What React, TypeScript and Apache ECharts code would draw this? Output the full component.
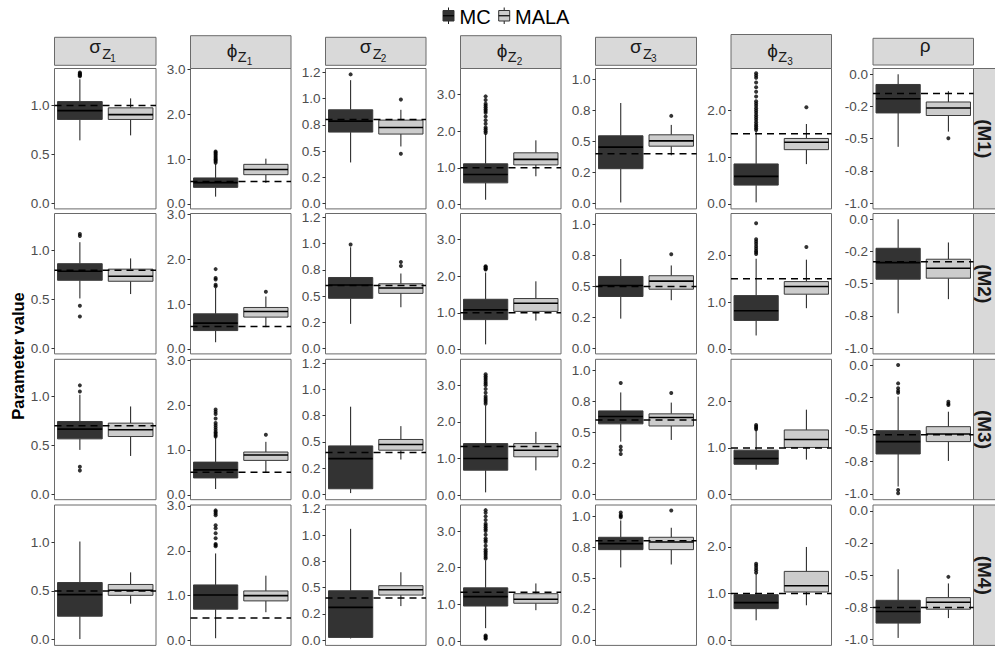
import React, { useEffect, useRef } from 'react';
import * as echarts from 'echarts';

// ---------- data ----------
const seriesNames = ['MC', 'MALA'];
const modelLabels = ['(M1)', '(M2)', '(M3)', '(M4)'];
// strip label pieces: [symbol, subscript, sub-subscript]
const paramLabels = [
  ['σ', 'Z', '1'], ['ϕ', 'Z', '1'], ['σ', 'Z', '2'], ['ϕ', 'Z', '2'],
  ['σ', 'Z', '3'], ['ϕ', 'Z', '3'], ['ρ', '', ''],
];

const yMin = [-0.058, -0.11, -0.05, -0.12, -0.045, -0.11, -1.045];
const yMax = [1.38, 3.02, 1.286, 3.71, 1.09, 2.9, 0.045];
const tickValues = [
  [0, 0.5, 1], [0, 1, 2, 3], [0, 0.25, 0.5, 0.75, 1, 1.25], [0, 1, 2, 3],
  [0, 0.25, 0.5, 0.75, 1], [0, 1, 2], [-1, -0.75, -0.5, -0.25, 0],
];
const tickLabels = [
  ['0.0', '0.5', '1.0'], ['0.0', '1.0', '2.0', '3.0'], ['0.0', '0.2', '0.5', '0.8', '1.0', '1.2'],
  ['0.0', '1.0', '2.0', '3.0'], ['0.0', '0.2', '0.5', '0.8', '1.0'], ['0.0', '1.0', '2.0'],
  ['-1.0', '-0.8', '-0.5', '-0.2', '0.0'],
];

// [lower whisker, Q1, median, Q3, upper whisker]
const mcStats = [
  [[0.644, 0.858, 0.949, 1.041, 1.27], [0.163, 0.37, 0.475, 0.58, 0.89], [0.392, 0.681, 0.785, 0.893, 1.175], [0.13, 0.59, 0.82, 1.11, 1.93], [0.007, 0.28, 0.454, 0.546, 0.811], [0.03, 0.40, 0.587, 0.854, 1.55], [-0.563, -0.30, -0.19, -0.079, 0.0]],
  [[0.51, 0.696, 0.788, 0.866, 1.086], [0.15, 0.41, 0.575, 0.783, 1.36], [0.236, 0.479, 0.605, 0.677, 0.965], [0.14, 0.815, 1.08, 1.37, 2.1], [0.24, 0.419, 0.508, 0.581, 0.722], [0.285, 0.607, 0.814, 1.14, 1.93], [-0.73, -0.465, -0.336, -0.225, 0.0]],
  [[0.452, 0.565, 0.665, 0.743, 1.017], [0.128, 0.375, 0.555, 0.728, 1.28], [0.013, 0.054, 0.341, 0.462, 0.835], [0.08, 0.685, 1.005, 1.41, 2.45], [0.424, 0.568, 0.627, 0.673, 0.822], [0.534, 0.649, 0.772, 0.952, 1.385], [-0.943, -0.69, -0.594, -0.509, -0.245]],
  [[0.007, 0.241, 0.462, 0.586, 1.006], [0.05, 0.697, 1.015, 1.238, 1.94], [0.016, 0.026, 0.312, 0.47, 1.059], [0.35, 0.954, 1.21, 1.45, 2.2], [0.585, 0.729, 0.778, 0.829, 0.965], [0.428, 0.678, 0.807, 0.978, 1.43], [-0.987, -0.872, -0.782, -0.695, -0.454]],
];
const malaStats = [
  [[0.695, 0.858, 0.908, 0.977, 1.074], [0.47, 0.653, 0.77, 0.883, 1.01], [0.544, 0.662, 0.725, 0.795, 0.893], [0.77, 1.08, 1.23, 1.41, 1.75], [0.388, 0.462, 0.505, 0.554, 0.634], [0.85, 1.16, 1.32, 1.40, 1.71], [-0.445, -0.32, -0.262, -0.215, -0.131]],
  [[0.555, 0.686, 0.737, 0.81, 0.92], [0.486, 0.71, 0.835, 0.925, 1.17], [0.394, 0.526, 0.577, 0.617, 0.715], [0.79, 1.04, 1.26, 1.39, 1.86], [0.389, 0.478, 0.543, 0.587, 0.67], [0.87, 1.17, 1.335, 1.44, 1.91], [-0.62, -0.457, -0.38, -0.31, -0.18]],
  [[0.39, 0.589, 0.658, 0.726, 0.897], [0.5, 0.766, 0.886, 0.953, 1.18], [0.332, 0.421, 0.475, 0.523, 0.65], [0.68, 1.05, 1.23, 1.41, 1.73], [0.438, 0.551, 0.619, 0.649, 0.74], [0.75, 1.01, 1.18, 1.385, 1.82], [-0.744, -0.594, -0.535, -0.478, -0.362]],
  [[0.369, 0.455, 0.507, 0.566, 0.69], [0.63, 0.882, 1.0, 1.104, 1.444], [0.324, 0.429, 0.48, 0.518, 0.646], [0.84, 1.03, 1.14, 1.29, 1.57], [0.609, 0.729, 0.791, 0.829, 0.906], [0.75, 1.035, 1.17, 1.477, 2.0], [-0.833, -0.764, -0.71, -0.674, -0.564]],
];
const mcOutliers = [
  [[1.30, 1.31, 1.32, 1.33, 1.34], [0.92, 0.95, 0.98, 1.0, 1.03, 1.06, 1.09, 1.12, 1.15, 1.17], [1.23], [1.95, 2.0, 2.05, 2.1, 2.2, 2.3, 2.4, 2.5, 2.55, 2.6, 2.65, 2.7, 2.75, 2.85, 2.95], [], [1.58, 1.62, 1.66, 1.7, 1.75, 1.8, 1.85, 1.9, 1.95, 2.0, 2.05, 2.1, 2.15, 2.2, 2.3, 2.4, 2.5, 2.6, 2.7, 2.75, 2.8], []],
  [[1.15, 1.17, 0.435, 0.326], [1.40, 1.43, 1.55, 1.58, 1.78], [0.99], [2.18, 2.2, 2.22, 2.25, 2.27], [], [2.03, 2.07, 2.1, 2.15, 2.2, 2.25, 2.3, 2.35, 2.69], []],
  [[1.051, 1.113, 0.28, 0.24], [1.3, 1.33, 1.37, 1.4, 1.45, 1.5, 1.55, 1.6, 1.7, 1.8, 1.85, 1.9], [], [2.5, 2.55, 2.6, 2.65, 2.7, 2.8, 2.9, 3.0, 3.05, 3.1, 3.15, 3.2, 3.25, 3.3], [0.898, 0.384, 0.357, 0.324], [1.4, 1.43, 1.46, 1.49], [-0.142, -0.18, -0.2, -0.215, 0.0, -0.97, -0.995]],
  [[], [2.1, 2.13, 2.15, 2.28, 2.39, 2.5, 2.57, 2.79, 2.83, 2.87, 2.9], [], [2.25, 2.3, 2.35, 2.4, 2.45, 2.5, 2.6, 2.7, 2.75, 2.8, 2.9, 3.0, 3.05, 3.1, 3.15, 3.2, 3.3, 3.4, 3.5, 3.57, 0.06, 0.08, 0.12, 0.15], [0.99, 1.0, 1.01, 1.03], [1.45, 1.5, 1.55, 1.6, 1.64], []],
];
const malaOutliers = [
  [[], [], [0.99, 0.475], [], [0.707], [2.07], [-0.497]],
  [[], [1.276], [0.787, 0.825], [], [0.76], [2.18], []],
  [[], [1.336], [], [], [0.817], [], [-0.285, -0.3, -0.31]],
  [[], [], [], [], [1.046], [], [-0.513]],
];
const trueValues = [
  [1.0, 0.5, 0.8, 1.0, 0.4, 1.5, -0.15],
  [0.8, 0.5, 0.6, 1.0, 0.5, 1.5, -0.33],
  [0.7, 0.5, 0.4, 1.33, 0.6, 1.0, -0.54],
  [0.5, 0.5, 0.4, 1.33, 0.8, 1.0, -0.75],
];

// ---------- layout ----------
const colLeft = [54.5, 190.5, 325.5, 460.5, 595.5, 731, 873];
const colWidth = [101.5, 100.5, 100.5, 100.5, 101, 100.5, 100.5];
const rowTop = [68.5, 213.5, 359.3, 505];
const rowHeight = 140.4;
const stripTop = [37.3, 35.7, 37.3, 35.7, 37.3, 34.5, 38.3];
const stripBottom = [65.3, 68.5, 65.3, 68.5, 65.3, 68.5, 65.0];
const FONT = 'Liberation Sans, Arial, Helvetica, sans-serif';
const FILLS = ['#333333', '#CCCCCC'];

const renderBox = (params: any, api: any) => {
  const cat = api.value(0);
  const lo = api.coord([cat, api.value(1)]);
  const q1 = api.coord([cat, api.value(2)]);
  const md = api.coord([cat, api.value(3)]);
  const q3 = api.coord([cat, api.value(4)]);
  const hi = api.coord([cat, api.value(5)]);
  const bw = api.size([1, 0])[0] * 0.88;
  const cx = md[0];
  return {
    type: 'group',
    children: [
      { type: 'line', shape: { x1: cx, y1: hi[1], x2: cx, y2: q3[1] }, style: { stroke: '#1a1a1a', lineWidth: 1 } },
      { type: 'line', shape: { x1: cx, y1: q1[1], x2: cx, y2: lo[1] }, style: { stroke: '#1a1a1a', lineWidth: 1 } },
      { type: 'rect', shape: { x: cx - bw / 2, y: q3[1], width: bw, height: q1[1] - q3[1] }, style: { fill: FILLS[cat], stroke: '#3a3a3a', lineWidth: 1 } },
      { type: 'line', shape: { x1: cx - bw / 2, y1: md[1], x2: cx + bw / 2, y2: md[1] }, style: { stroke: '#000', lineWidth: 1.6 } },
    ],
  };
};

const renderHLine = (params: any, api: any) => {
  const y = api.coord([0, api.value(1)])[1];
  const cs = params.coordSys;
  return {
    type: 'line',
    shape: { x1: cs.x, y1: y, x2: cs.x + cs.width, y2: y },
    style: { stroke: '#000', lineWidth: 1.5, lineDash: [7, 5] },
  };
};

function buildOption() {
  const grid: any[] = [];
  const xAxis: any[] = [];
  const yAxis: any[] = [];
  const series: any[] = [];
  const graphic: any[] = [];
  let idx = 0;
  for (let r = 0; r < 4; r++) {
    for (let c = 0; c < 7; c++) {
      grid.push({
        left: colLeft[c], top: rowTop[r], width: colWidth[c], height: rowHeight,
        show: true, borderColor: '#6a6a6a', borderWidth: 1, backgroundColor: '#fff',
        containLabel: false, outerBoundsMode: 'none',
      });
      xAxis.push({
        type: 'category', gridIndex: idx, data: seriesNames, boundaryGap: true,
        axisLine: { show: false }, axisTick: { show: false }, axisLabel: { show: false }, splitLine: { show: false },
      });
      const tv = tickValues[c];
      const tl = tickLabels[c];
      yAxis.push({
        type: 'value', gridIndex: idx, min: yMin[c], max: yMax[c],
        axisLine: { show: false }, splitLine: { show: false },
        axisTick: { show: true, length: 3, customValues: tv, lineStyle: { color: '#333', width: 1 } },
        axisLabel: {
          show: true, customValues: tv, margin: 5, color: '#4D4D4D', fontSize: 13.5, fontFamily: FONT,
          lineHeight: 12,
          formatter: (v: number) => {
            const i = tv.findIndex((t) => Math.abs(t - v) < 1e-6);
            return i >= 0 ? tl[i] : '';
          },
        },
      });
      series.push({
        type: 'custom', name: 'box', xAxisIndex: idx, yAxisIndex: idx, renderItem: renderBox,
        encode: { x: 0, y: [1, 2, 3, 4, 5] }, z: 2,
        data: [[0, ...mcStats[r][c]], [1, ...malaStats[r][c]]],
      });
      series.push({
        type: 'scatter', name: 'outliers', xAxisIndex: idx, yAxisIndex: idx, symbol: 'circle', symbolSize: 4,
        itemStyle: { color: '#000' }, z: 3,
        data: [...mcOutliers[r][c].map((v) => [0, v]), ...malaOutliers[r][c].map((v) => [1, v])],
      });
      series.push({
        type: 'custom', name: 'true', xAxisIndex: idx, yAxisIndex: idx, renderItem: renderHLine,
        encode: { x: 0, y: 1 }, z: 4, data: [[0, trueValues[r][c]]],
      });
      idx++;
    }
    // right strip
    graphic.push({
      type: 'rect', silent: true,
      shape: { x: 973.5, y: rowTop[r], width: 30, height: rowHeight },
      style: { fill: '#D9D9D9', stroke: '#6a6a6a', lineWidth: 1 },
    });
    graphic.push({
      type: 'text', silent: true, x: 984, y: rowTop[r] + rowHeight / 2, rotation: -Math.PI / 2,
      style: { text: modelLabels[r], font: `bold 19px ${FONT}`, fill: '#1a1a1a', align: 'center', verticalAlign: 'middle' },
    });
  }

  // top strips
  for (let c = 0; c < 7; c++) {
    graphic.push({
      type: 'rect', silent: true,
      shape: { x: colLeft[c], y: stripTop[c], width: colWidth[c], height: stripBottom[c] - stripTop[c] },
      style: { fill: '#D9D9D9', stroke: '#6a6a6a', lineWidth: 1 },
    });
    const cx = colLeft[c] + colWidth[c] / 2;
    const [sym, sub, subsub] = paramLabels[c];
    const isPhi = sym === 'ϕ';
    if (sub === '') {
      graphic.push({
        type: 'text', silent: true, x: cx + 2, y: 52 - 0.35 * 19,
        style: { text: sym, font: `19px ${FONT}`, fill: '#1a1a1a', align: 'center', verticalAlign: 'middle' },
      });
    } else {
      const bBase = isPhi ? 57.2 : 53;
      const zBase = isPhi ? 62.5 : 59;
      const sBase = isPhi ? 65.3 : 62.3;
      const dx = isPhi ? [-14, -3, 6] : [-16, -3, 5];
      graphic.push({
        type: 'text', silent: true, x: cx + dx[0], y: bBase - 0.35 * 19,
        style: { text: sym, font: `19px ${FONT}`, fill: '#1a1a1a', align: 'left', verticalAlign: 'middle' },
      });
      graphic.push({
        type: 'text', silent: true, x: cx + dx[1], y: zBase - 0.35 * 14.5,
        style: { text: sub, font: `14.5px ${FONT}`, fill: '#1a1a1a', align: 'left', verticalAlign: 'middle' },
      });
      graphic.push({
        type: 'text', silent: true, x: cx + dx[2], y: sBase - 0.35 * 10,
        style: { text: subsub, font: `10px ${FONT}`, fill: '#1a1a1a', align: 'left', verticalAlign: 'middle' },
      });
    }
  }

  // y axis title
  graphic.push({
    type: 'text', silent: true, x: 17.5, y: 356, rotation: Math.PI / 2,
    style: { text: 'Parameter value', font: `bold 16.5px ${FONT}`, fill: '#000', align: 'center', verticalAlign: 'middle' },
  });

  // legend
  const legendX = [448.5, 504.2];
  const textX = [459.5, 515];
  for (let i = 0; i < 2; i++) {
    const lx = legendX[i];
    graphic.push({ type: 'line', silent: true, shape: { x1: lx, y1: 7.5, x2: lx, y2: 24 }, style: { stroke: '#1a1a1a', lineWidth: 1 } });
    graphic.push({ type: 'rect', silent: true, shape: { x: lx - 5.5, y: 10.5, width: 11, height: 10.5 }, style: { fill: FILLS[i], stroke: '#333', lineWidth: 1 } });
    graphic.push({ type: 'line', silent: true, shape: { x1: lx - 5.5, y1: 15.75, x2: lx + 5.5, y2: 15.75 }, style: { stroke: '#000', lineWidth: 1.2 } });
    graphic.push({
      type: 'text', silent: true, x: textX[i], y: 24 - 0.35 * 20,
      style: { text: seriesNames[i], font: `20px ${FONT}`, fill: '#000', align: 'left', verticalAlign: 'middle' },
    });
  }

  return { animation: false, backgroundColor: '#fff', grid, xAxis, yAxis, series, graphic };
}

export default function App() {
  const ref = useRef<HTMLDivElement>(null);
  useEffect(() => {
    if (!ref.current) return;
    const chart = echarts.init(ref.current, undefined, { renderer: 'svg' });
    chart.setOption(buildOption() as any);
    return () => chart.dispose();
  }, []);
  return <div ref={ref} style={{ position: 'fixed', left: 0, top: 0, width: 995, height: 648 }} />;
}
